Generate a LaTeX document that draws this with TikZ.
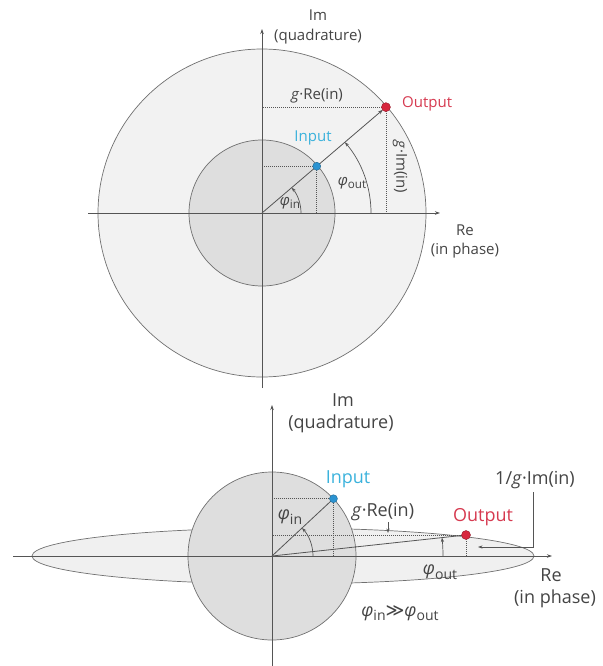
\documentclass[tikz,border=0pt]{standalone}
\usepackage{fontspec}
\setmainfont{Open Sans}
\newfontfamily\symfont{DejaVu Sans}
\usetikzlibrary{arrows.meta}
\definecolor{txt}{HTML}{444444}
\definecolor{axc}{HTML}{555555}
\definecolor{ringc}{HTML}{707070}
\definecolor{outerfill}{HTML}{F2F2F2}
\definecolor{innerfill}{HTML}{DEDEDE}
\definecolor{ellfill}{HTML}{F0F0F0}
\definecolor{inblue}{HTML}{2B93D1}
\definecolor{intext}{HTML}{3BB2DC}
\definecolor{outred}{HTML}{D7263D}
\definecolor{outtext}{HTML}{D63A50}
\newcommand{\myphi}[1]{{\itshape φ}\raisebox{-0.45ex}{\scalebox{0.78}{#1}}}
\begin{document}
\begin{tikzpicture}[x=1pt,y=-1pt,
  axis/.style={draw=axc, line width=0.7pt, -{Stealth[length=5pt,width=3.5pt]}},
  ring/.style={draw=ringc, line width=0.7pt},
  dotln/.style={draw=axc, line width=0.6pt, dash pattern=on 1pt off 1pt},
  vec/.style={draw=axc, line width=0.8pt},
  arcst/.style={draw=axc, line width=0.7pt, -{Stealth[length=4.5pt,width=3.2pt]}},
  lbl/.style={text=txt, font=\fontsize{15}{17}\selectfont, inner sep=0pt},
  lblb/.style={text=txt, font=\fontsize{18}{20}\selectfont, inner sep=0pt},
  ptin/.style={circle, fill=inblue, draw=inblue!70!black, line width=0.4pt, minimum size=8pt, inner sep=0pt},
  ptout/.style={circle, fill=outred, draw=outred!70!black, line width=0.4pt, minimum size=9pt, inner sep=0pt},
]
\useasboundingbox (0,0) rectangle (602,666);

% ---------------- top diagram ----------------
\coordinate (O1) at (262,213);
\filldraw[ring, fill=outerfill] (O1) circle[radius=164];
\filldraw[ring, fill=innerfill] (O1) circle[radius=73];
\coordinate (xl1) at (88,213);
\coordinate (xr1) at (440,213);
\coordinate (yb1) at (262,388);
\coordinate (yt1) at (262,29);
\draw[axis] (xl1) -- (xr1);
\draw[axis] (yb1) -- (yt1);
\path (O1) ++(-40.5:72) coordinate (in1);
\path (O1) ++(-40.5:163) coordinate (out1);
\draw[dotln] (in1) -- (in1 -| O1);
\draw[dotln] (in1) -- (in1 |- O1);
\draw[dotln] (out1) -- (out1 -| O1);
\draw[dotln] (out1) -- (out1 |- O1);
\draw[vec, -{Stealth[length=5pt,width=3.5pt]}, shorten >=4pt] (O1) -- (out1);
\draw[arcst] (O1) ++(39,0) arc[start angle=0, end angle=-40.5, radius=39];
\draw[arcst] (O1) ++(109,0) arc[start angle=0, end angle=-40.5, radius=109];
\node[ptin] (pin1) at (in1) {};
\node[ptout] (pout1) at (out1) {};
\node[lbl] (im1) at (318,15) {Im};
\node[lbl] (quad1) at (318,37) {(quadrature)};
\node[lbl] (re1) at (465,230) {Re};
\node[lbl] (ph1) at (465,251) {(in phase)};
\node[lbl] (gre1) at (317,96) {\textit{g}·Re(in)};
\node[lbl, text=outtext, anchor=west] (outl1) at (402,104) {Output};
\node[lbl, text=intext] (inl1) at (313,138) {Input};
\node[lbl, rotate=-90] (gim1) at (400,167) {\textit{g}·Im(in)};
\node[lbl] (phout1) at (352,183) {\myphi{out}};
\node[lbl] (phin1) at (290,203) {\myphi{in}};

% ---------------- bottom diagram ----------------
\coordinate (O2) at (272,556);
\coordinate (E2) at (283,556);
\filldraw[ring, fill=ellfill] (E2) ellipse[x radius=251, y radius=28];
\filldraw[ring, fill=innerfill] (O2) circle[radius=84];
\coordinate (xl2) at (13,556);
\coordinate (xr2) at (552,556);
\coordinate (yb2) at (272,666);
\coordinate (yt2) at (272,405);
\draw[axis] (xl2) -- (xr2);
\draw[axis] (yb2) -- (yt2);
\path (O2) ++(-43:84) coordinate (in2);
\coordinate (out2) at (466,535);
\draw[dotln] (in2) -- (in2 -| O2);
\draw[dotln] (in2) -- (in2 |- O2);
\draw[dotln] (out2) -- (out2 -| O2);
\draw[dotln] (out2) -- (out2 |- O2);
\draw[vec] (O2) -- (in2);
\draw[vec] (O2) -- (out2);
\draw[arcst] (O2) ++(41,0) arc[start angle=0, end angle=-43, radius=41];
\draw[arcst] (O2) ++(171,0) arc[start angle=0, end angle=-6.2, radius=171];
\node[ptin] (pin2) at (in2) {};
\node[ptout] (pout2) at (out2) {};
\node[lblb] (im2) at (343,400) {Im};
\node[lblb] (quad2) at (341,424) {(quadrature)};
\node[lblb] (re2) at (551,575) {Re};
\node[lblb] (ph2) at (555,599) {(in phase)};
\node[lblb, text=intext] (inl2) at (348,479) {Input};
\node[lblb, text=outtext] (outl2) at (483,517) {Output};
\node[lblb] (gre2) at (383,512) {\textit{g}·Re(in)};
\coordinate (gretop) at (388,522);
\coordinate (gretip) at (388,533);
\draw[arcst] (gretop) -- (gretip);
\node[lblb] (gim2) at (535,480) {1/\textit{g}·Im(in)};
\coordinate (imtop) at (533,492);
\coordinate (imtip) at (478,547);
\draw[arcst] (imtop) |- (imtip);
\node[lblb] (phout2) at (440,572) {\myphi{out}};
\node[lblb] (phin2) at (290,517) {\myphi{in}};
\node[lblb] (rel2) at (400,613) {\myphi{in}{\symfont ≫}\myphi{out}};
\end{tikzpicture}
\end{document}
